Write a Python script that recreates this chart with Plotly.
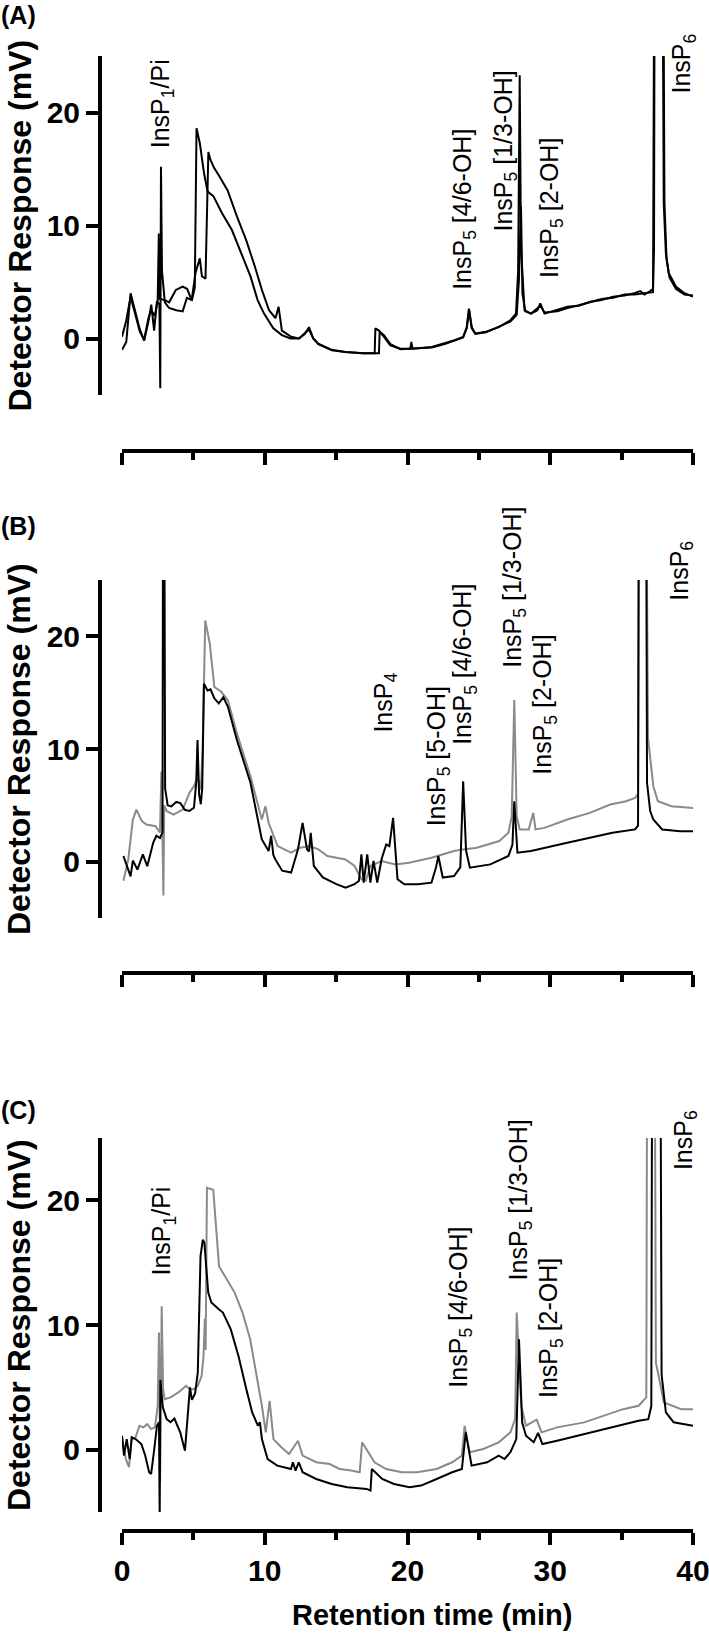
import plotly.graph_objects as go

W, H = 709, 1635

# ---------------- Panel A (two black traces) ----------------
a1_t = [0.0, 0.3, 0.6, 0.9, 1.25, 1.55, 1.85, 2.05, 2.25, 2.45, 2.62, 2.68, 2.73, 2.8, 3.0, 3.3, 3.8, 4.25,
        4.55, 4.9, 5.1, 5.22, 5.45, 5.75, 6.0, 6.4, 7.0, 7.7, 8.35, 9.0, 9.5, 9.95, 10.6, 11.2, 11.8, 12.4,
        12.8, 13.1, 13.4, 13.75, 14.7, 15.65, 16.9, 17.7, 17.75, 18.0, 18.35, 18.8, 19.5, 20.2, 20.27, 20.35,
        21.7, 22.6, 23.3, 23.9, 24.15, 24.3, 24.5, 24.75, 25.5, 26.4, 27.2, 27.6, 27.75, 27.86, 27.95, 28.2,
        28.65, 29.1, 29.3, 29.6, 30.5, 31.2, 32.0, 32.8, 33.6, 34.4, 35.2, 35.9, 36.3, 36.6, 37.0, 37.2,
        37.27, 37.32, 37.85, 37.95, 38.1, 38.3, 38.8, 39.4, 40.0]
a1_v = [-1.0, -0.3, 4.0, 2.4, 0.8, -0.2, 1.5, 3.0, 0.7, 3.3, 3.0, -4.4, 15.2, 6.0, 3.2, 2.7, 2.5, 2.4,
        3.6, 3.4, 4.5, 18.6, 17.3, 14.6, 13.0, 12.6, 11.1, 9.6, 7.5, 5.5, 3.4, 2.2, 0.9, 0.3, 0.0, 0.0,
        0.4, 1.0, 0.0, -0.45, -1.0, -1.2, -1.3, -1.3, 0.9, 0.7, 0.15, -0.6, -0.9, -0.9, -0.3, -0.9,
        -0.75, -0.45, -0.15, 0.15, 1.0, 2.65, 1.0, 0.45, 0.6, 1.0, 1.6, 2.2, 6.0, 23.3, 8.0, 2.5,
        2.2, 2.5, 3.1, 2.2, 2.5, 2.8, 2.9, 3.25, 3.4, 3.7, 3.8, 4.0, 4.2, 3.9, 4.2, 4.4,
        8.0, 40.0, 40.0, 12.0, 7.5, 5.8, 4.6, 4.0, 3.7]

a2_t = [0.0, 0.3, 0.6, 0.9, 1.25, 1.55, 1.85, 2.05, 2.3, 2.5, 2.58, 2.65, 3.0, 3.3, 3.77, 4.25, 4.56, 4.88,
        5.15, 5.45, 5.6, 5.85, 6.05, 6.2, 6.45, 6.8, 7.4, 8.05, 8.7, 9.3, 9.8, 10.3, 10.75, 10.97, 11.2,
        11.85, 12.4, 13.1, 13.4, 13.75, 14.7, 15.65, 16.9, 18.0, 18.05, 18.35, 18.8, 19.5, 20.25, 21.7,
        22.6, 23.3, 23.9, 24.15, 24.32, 24.5, 24.75, 25.5, 26.4, 27.2, 27.65, 27.8, 27.95, 28.05, 28.25,
        28.65, 29.3, 29.6, 30.5, 31.2, 32.0, 32.8, 33.6, 34.4, 35.2, 35.9, 36.6, 37.2, 37.3, 37.9, 38.0,
        38.15, 38.35, 38.8, 39.4, 40.0]
a2_v = [0.15, 1.6, 3.7, 2.2, 0.6, -0.1, 1.8, 2.5, 2.0, 3.4, 9.3, 3.5, 3.4, 3.2, 4.3, 4.6, 4.4, 3.4,
        5.8, 7.1, 5.5, 5.3, 16.5, 15.8, 15.1, 14.4, 13.1, 10.8, 8.7, 6.4, 4.3, 2.5, 1.8, 2.8, 0.7,
        0.15, 0.0, 0.8, 0.0, -0.5, -1.05, -1.2, -1.3, -1.3, 0.6, 0.3, -0.5, -0.95, -0.9, -0.8,
        -0.5, -0.2, 0.1, 0.9, 2.5, 0.9, 0.4, 0.55, 1.05, 1.5, 2.1, 5.0, 11.7, 4.0, 2.4,
        2.2, 2.9, 2.3, 2.4, 2.7, 2.95, 3.2, 3.5, 3.6, 3.9, 3.9, 4.0, 4.1, 40.0, 40.0, 12.0,
        7.0, 5.4, 4.4, 3.9, 3.8]

# ---------------- Panel B (black + grey) ----------------
b_black_t = [0.1, 0.6, 0.76, 1.08, 1.46, 1.77, 2.19, 2.41, 2.66, 2.84, 2.88, 2.95, 3.02, 3.2, 3.45, 3.8, 4.09,
             4.4, 4.72, 5.04, 5.2, 5.29, 5.4, 5.52, 5.62, 5.74, 5.99, 6.2, 6.47, 6.78, 7.1, 7.42, 8.05, 9.0,
             9.79, 10.27, 10.45, 10.6, 10.74, 11.22, 11.85, 12.33, 12.65, 12.96, 13.1, 13.22, 13.44, 14.07,
             15.02, 15.66, 16.29, 16.6, 16.77, 16.93, 17.18, 17.4, 17.62, 17.88, 18.2, 18.51, 18.73, 18.99,
             19.3, 19.78, 20.73, 21.68, 22.0, 22.16, 22.47, 23.26, 23.7, 23.9, 24.1, 24.37, 25.8, 27.07,
             27.35, 27.48, 27.7, 28.65, 31.19, 32.77, 34.36, 35.94, 36.15, 36.22, 36.7, 36.78, 37.0, 37.22,
             37.84, 39.11, 40.0]
b_black_v = [0.5, -1.3, 0.1, -0.7, 0.65, -0.4, 1.7, 2.3, 2.1, 2.6, 40.0, 40.0, 6.5, 5.0, 4.9, 5.3, 5.2,
             4.6, 4.5, 4.8, 7.0, 10.8, 6.0, 5.1, 6.5, 15.8, 15.2, 15.3, 14.5, 14.05, 14.6, 13.75, 10.8, 7.0,
             2.0, 0.94, 2.3, 0.6, 0.2, -0.8, -0.97, 1.1, 3.45, 1.1, 0.9, 2.56, -0.4, -1.4,
             -2.0, -2.3, -2.0, -1.7, 0.65, -1.86, 0.65, -1.86, 0.06, -1.86, 0.3, 1.53, 1.38, 3.89,
             -1.56, -2.0, -2.0, -1.86, -0.5, 0.5, -1.41, -1.27, -0.5, 7.13, 1.0, -0.53, -0.24, 0.5,
             1.5, 5.36, 0.8, 0.94, 1.68, 2.12, 2.56, 2.86, 3.2, 40.0, 40.0, 7.0, 4.5, 3.74,
             2.86, 2.7, 2.7]

b_grey_t = [0.1, 0.44, 0.76, 1.01, 1.39, 1.71, 2.35, 2.66, 2.76, 2.84, 2.9, 2.96, 3.14, 3.61, 4.25, 4.72,
            5.04, 5.29, 5.52, 5.65, 5.83, 6.15, 6.47, 6.94, 7.42, 8.05, 9.0, 9.79, 10.05, 10.27, 10.9, 11.85,
            12.49, 13.12, 13.76, 14.39, 15.66, 16.29, 16.77, 17.08, 17.4, 18.19, 19.14, 20.1, 21.68, 23.26,
            23.9, 24.85, 26.43, 27.07, 27.3, 27.48, 27.65, 27.86, 28.49, 28.81, 28.97, 29.6, 31.19, 32.77,
            34.2, 35.31, 35.94, 36.15, 36.22, 36.7, 36.85, 37.22, 37.54, 38.5, 40.0]
b_grey_v = [-1.7, 0.2, 3.74, 4.62, 3.6, 3.3, 3.15, 2.56, 8.0, 1.5, -3.0, 5.0, 4.48, 4.18, 4.62, 6.1,
            6.7, 7.5, 6.4, 10.0, 21.4, 19.35, 15.5, 15.1, 14.3, 11.4, 7.57, 3.74, 4.92, 3.45, 1.38, 0.8,
            1.24, 1.38, 1.09, 0.5, 0.2, -0.38, -1.56, -1.7, -0.38, 0.06, -0.24, -0.09, 0.35, 0.94,
            1.09, 1.24, 1.83, 2.56, 4.0, 14.34, 4.0, 2.86, 2.86, 4.33, 2.86, 3.0, 3.74, 4.33,
            5.07, 5.36, 5.66, 6.0, 40.0, 40.0, 11.0, 6.7, 5.36, 4.92, 4.77]

# ---------------- Panel C (black + grey) ----------------
c_black_t = [0.0, 0.14, 0.33, 0.54, 0.68, 0.95, 1.36, 1.63, 1.9, 2.04, 2.26, 2.45, 2.59, 2.64, 2.69, 2.86,
             3.13, 3.4, 3.67, 4.08, 4.41, 4.57, 4.76, 4.9, 5.12, 5.31, 5.5, 5.66, 5.77, 6.04, 6.26, 6.8, 7.07,
             7.62, 8.16, 8.71, 9.12, 9.52, 9.66, 9.8, 10.2, 10.88, 11.84, 11.97, 12.16, 12.38, 12.65, 13.6,
             14.69, 15.78, 17.14, 17.41, 17.5, 18.23, 19.05, 20.14, 20.95, 22.04, 23.13, 23.81, 24.08,
             24.49, 25.58, 26.39, 26.8, 27.21, 27.62, 27.81, 28.03, 28.3, 28.84, 29.15, 29.45, 30.48,
             32.38, 33.74, 35.1, 36.19, 36.87, 37.08, 37.15, 37.7, 37.8, 38.1, 38.64, 40.0]
c_black_v = [1.12, -0.48, 0.85, -0.75, 0.99, 0.85, 0.45, -0.48, -1.81, -1.95, 0.05, 1.92, 2.2, -5.5, 5.6, 3.39,
             2.45, 2.2, 2.5, 1.39, -0.08, 2.2, 5.0, 4.0, 4.5, 6.2, 15.5, 16.85, 16.6, 12.6, 11.8, 11.25, 11.0,
             9.65, 7.52, 4.85, 2.99, 1.92, 2.2, 0.85, -0.75, -1.28, -1.55, -1.01, -1.68, -1.01, -1.81, -2.35,
             -2.75, -3.01, -3.15, -3.28, -1.55, -2.35, -2.75, -3.01, -2.88, -2.35, -1.81, -1.55, 1.39,
             -1.28, -1.01, -0.48, -0.75, -0.21, 0.85, 8.85, 2.2, 1.12, 0.6, 1.35, 0.45, 0.72,
             1.25, 1.65, 2.05, 2.32, 2.45, 3.5, 40.0, 40.0, 6.0, 2.99, 2.2, 1.92]

c_grey_t = [0.0, 0.27, 0.49, 0.68, 0.95, 1.22, 1.5, 1.77, 2.04, 2.31, 2.5, 2.59, 2.63, 2.67, 2.78, 2.88, 2.99,
            3.4, 3.95, 4.49, 4.76, 5.03, 5.31, 5.58, 5.71, 5.8, 5.86, 5.95, 6.39, 6.8, 7.35, 7.89, 8.44, 8.98,
            9.39, 9.8, 10.07, 10.34, 10.61, 11.16, 11.7, 12.33, 12.65, 13.61, 14.56, 15.24, 16.05, 16.65,
            16.82, 17.28, 17.69, 18.5, 19.59, 20.68, 22.04, 23.13, 23.81, 24.0, 24.35, 25.31, 26.39, 27.21,
            27.54, 27.65, 27.97, 28.3, 28.71, 29.05, 29.39, 30.48, 32.38, 33.74, 35.1, 36.19, 36.73, 36.8,
            37.3, 37.4, 37.96, 39.18, 40.0]
c_grey_v = [0.99, -0.75, -1.4, 0.85, 0.99, 1.92, 1.79, 2.05, 1.65, 1.79, 3.52, 9.39, 4.0, -2.6, 11.5, 4.85, 4.05,
            4.19, 4.59, 5.12, 4.85, 4.85, 5.12, 5.92, 7.5, 10.5, 8.0, 21.0, 20.85, 14.7, 13.65, 12.6, 11.0, 8.85,
            6.19, 3.52, 1.39, 3.92, 0.85, 0.19, -0.35, 0.72, -0.48, -1.01, -1.15, -1.55, -1.68, -1.81,
            0.59, -0.21, -1.01, -1.55, -1.81, -1.81, -1.55, -1.01, -0.48, 1.92, -0.21, 0.05, 0.59, 1.39,
            2.45, 11.0, 3.52, 1.92, 2.19, 2.4, 1.39, 1.79, 2.19, 2.72, 3.25, 3.52, 4.19, 40.0,
            40.0, 7.0, 3.79, 3.25, 3.25]

# ---------------- Text ----------------
panel_letters = ["(A)", "(B)", "(C)"]
y_title = "Detector Response (mV)"
x_title = "Retention time (min)"
y_tick_vals = [0, 10, 20]
x_tick_vals = [0, 10, 20, 30, 40]
x_minor_vals = [5, 15, 25, 35]

# peak labels: (text, retention time, response at label start)
a_labels = [("InsP<sub>1</sub>/Pi", 2.8, 16.7),
            ("InsP<sub>5</sub> [4/6-OH]", 23.9, 4.1),
            ("InsP<sub>5</sub> [1/3-OH]", 26.8, 9.3),
            ("InsP<sub>5</sub> [2-OH]", 30.0, 5.2),
            ("InsP<sub>6</sub>", 39.3, 21.5)]
b_labels = [("InsP<sub>4</sub>", 18.4, 11.25),
            ("InsP<sub>5</sub> [5-OH]", 22.1, 3.0),
            ("InsP<sub>5</sub> [4/6-OH]", 24.0, 10.2),
            ("InsP<sub>5</sub> [1/3-OH]", 27.4, 17.0),
            ("InsP<sub>5</sub> [2-OH]", 29.6, 7.5),
            ("InsP<sub>6</sub>", 39.1, 23.0)]
c_labels = [("InsP<sub>1</sub>/Pi", 2.9, 13.8),
            ("InsP<sub>5</sub> [4/6-OH]", 23.7, 4.8),
            ("InsP<sub>5</sub> [1/3-OH]", 27.9, 13.4),
            ("InsP<sub>5</sub> [2-OH]", 30.0, 4.0),
            ("InsP<sub>6</sub>", 39.4, 22.3)]

BLACK = "#000000"
GREY = "#8a8a8a"
SANS = "Liberation Sans, Arial, Helvetica, sans-serif"

# pixel layout of each panel: (top of y axis, bottom of y axis, x-axis line y, letter top)
panel_px = [(56, 395, 451, 0), (580, 918, 973, 511), (1138, 1512, 1531, 1095)]
Y_AXIS_X = 100
X_LEFT, X_RIGHT = 122, 693

series = [
    [(a2_t, a2_v, BLACK), (a1_t, a1_v, BLACK)],
    [(b_grey_t, b_grey_v, GREY), (b_black_t, b_black_v, BLACK)],
    [(c_grey_t, c_grey_v, GREY), (c_black_t, c_black_v, BLACK)],
]
labels = [a_labels, b_labels, c_labels]

fig = go.Figure()
annotations = []
tick_font = dict(family=SANS, size=30, color=BLACK, weight="bold")

for i, (top, bot, xline, ltop) in enumerate(panel_px):
    n = "" if i == 0 else str(i + 1)
    xa, ya = "x" + n, "y" + n
    for t, v, col in series[i]:
        fig.add_trace(go.Scatter(x=t, y=v, mode="lines", line=dict(color=col, width=2),
                                 xaxis=xa, yaxis=ya, hoverinfo="skip", showlegend=False))
    last = (i == 2)
    fig.update_layout(**{
        "xaxis" + n: dict(domain=[X_LEFT / W, X_RIGHT / W], range=[0, 40], anchor="free",
                          position=1 - xline / H, showline=True, linecolor=BLACK, linewidth=4,
                          ticks="outside", ticklen=12, tickwidth=4, tickcolor=BLACK,
                          tickmode="array", tickvals=x_tick_vals, showticklabels=last,
                          ticklabeloverflow="allow", tickfont=tick_font,
                          minor=dict(tickmode="array", tickvals=x_minor_vals, ticks="outside",
                                     ticklen=7, tickwidth=4, tickcolor=BLACK, showgrid=False),
                          showgrid=False, zeroline=False, fixedrange=True),
        "yaxis" + n: dict(domain=[1 - bot / H, 1 - top / H], range=[-5, 25], anchor="free",
                          position=Y_AXIS_X / W, showline=True, linecolor=BLACK, linewidth=4,
                          ticks="outside", ticklen=12, tickwidth=4, tickcolor=BLACK,
                          tickmode="array", tickvals=y_tick_vals, ticklabeloverflow="allow",
                          tickfont=tick_font,
                          showgrid=False, zeroline=False, fixedrange=True),
    })
    # panel letter
    annotations.append(dict(text=panel_letters[i], xref="paper", yref="paper", x=0,
                            y=1 - ltop / H, xanchor="left", yanchor="top", showarrow=False,
                            borderpad=0,
                            font=dict(family=SANS, size=25, color=BLACK, weight="bold")))
    # y title
    annotations.append(dict(text=y_title, xref="paper", yref="paper", x=19 / W,
                            y=1 - (top + bot) / 2 / H, xanchor="center", yanchor="middle",
                            textangle=-90, showarrow=False,
                            font=dict(family=SANS, size=32, color=BLACK, weight="bold")))
    # peak labels
    for txt, tx, ty in labels[i]:
        annotations.append(dict(text=txt, xref=xa, yref=ya, x=tx, y=ty, xanchor="center",
                                yanchor="bottom", textangle=-90, showarrow=False,
                                font=dict(family=SANS, size=25, color=BLACK)))

annotations.append(dict(text=x_title, xref="paper", yref="paper", x=432 / W, y=1 - 1615 / H,
                        xanchor="center", yanchor="middle", showarrow=False,
                        font=dict(family=SANS, size=29, color=BLACK, weight="bold")))

fig.update_layout(width=W, height=H, margin=dict(l=0, r=0, t=0, b=0), template="none",
                  paper_bgcolor="white", plot_bgcolor="white", showlegend=False,
                  annotations=annotations)

fig.write_html("out.html", include_plotlyjs=True, config={"displayModeBar": False},
               post_script="document.body.style.margin='0';")
